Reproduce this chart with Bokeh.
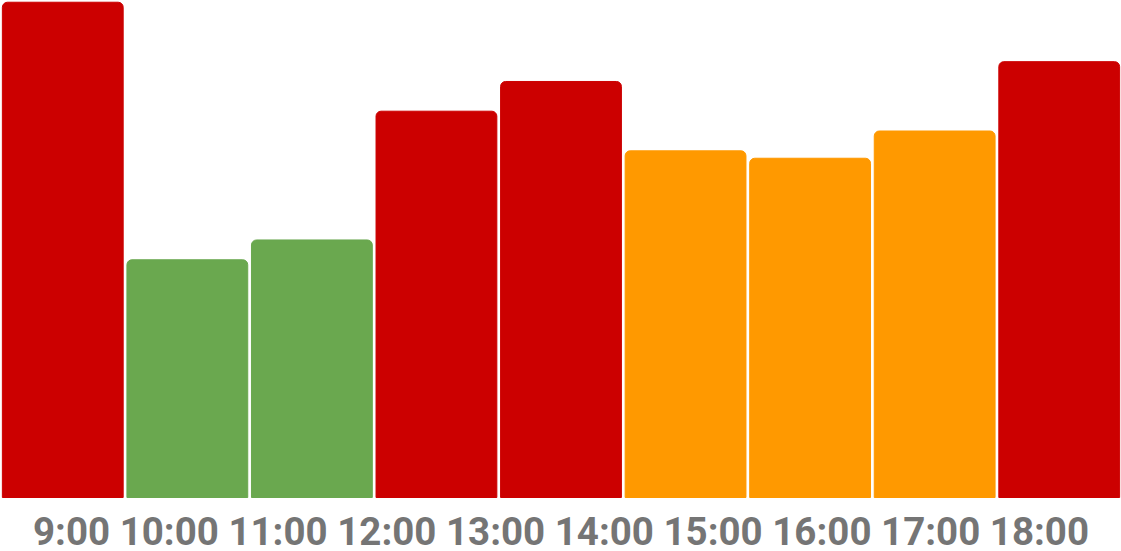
from bokeh.plotting import figure
from bokeh.models import Range1d, ColumnDataSource
from bokeh.core.properties import value
from bokeh.embed import file_html
from bokeh.resources import INLINE

# hourly slots (bars sit between the hour marks)
hours = ["9:00", "10:00", "11:00", "12:00", "13:00", "14:00",
         "15:00", "16:00", "17:00", "18:00"]
load = [100, 48, 52, 78, 84, 70, 68.5, 74, 88]
level = ["high", "low", "low", "high", "high", "mid", "mid", "mid", "high"]

palette = {"high": "#cc0000", "mid": "#ff9900", "low": "#6aa84f"}

W, H = 1121, 551

source = ColumnDataSource(data=dict(
    x=list(range(len(load))),
    load=load,
    color=[palette[l] for l in level],
))

p = figure(width=W, height=H,
           x_range=Range1d(-0.5, 8.5),
           y_range=Range1d(-10.9, 100.35),
           output_backend="svg",
           toolbar_location=None,
           min_border=0)

p.vbar(x="x", top="load", bottom=0, width=0.97, color="color",
       border_radius=(5, 5, 0, 0), source=source)

# hour labels, one line under the bars
p.text(x=[4], y=[-6.9], text=[" ".join(hours)],
       text_font=value("Roboto"), text_font_style="bold",
       text_font_size="38.5px", text_color="#757575",
       text_align="center", text_baseline="alphabetic")

p.axis.visible = False
p.grid.visible = False
p.outline_line_color = None

open("out.html", "w").write(file_html(p, INLINE))
